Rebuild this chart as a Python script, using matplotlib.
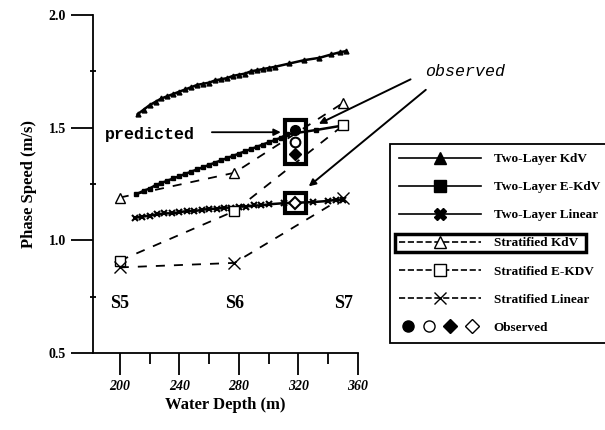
import numpy as np
import matplotlib
matplotlib.use("Agg")
import matplotlib.pyplot as plt
from matplotlib.lines import Line2D
from matplotlib.patches import Rectangle
from matplotlib.legend_handler import HandlerTuple

plt.rcParams['font.family'] = ['Liberation Serif', 'DejaVu Serif']
plt.rcParams['font.weight'] = 'bold'
plt.rcParams['axes.labelweight'] = 'bold'

# two-layer model curves (dense points)
tl_kdv_x = [212, 216, 220, 224, 228, 232, 236, 240, 244, 248, 252, 256, 260, 264, 268,
            272, 276, 280, 284, 288, 292, 296, 300, 304, 314, 324, 334, 342, 348, 352]
tl_kdv_y = [1.56, 1.58, 1.60, 1.615, 1.63, 1.64, 1.65, 1.66, 1.67, 1.68, 1.69, 1.695, 1.70, 1.71, 1.715,
            1.72, 1.73, 1.735, 1.74, 1.75, 1.755, 1.76, 1.765, 1.77, 1.785, 1.80, 1.81, 1.825, 1.835, 1.84]

tl_ekdv_x = [211, 216, 220, 224, 228, 232, 236, 240, 244, 248, 252, 256, 260, 264, 268,
             272, 276, 280, 284, 288, 292, 296, 300, 304, 308, 312, 332, 350]
tl_ekdv_y = [1.205, 1.22, 1.23, 1.245, 1.255, 1.265, 1.275, 1.285, 1.295, 1.305, 1.315, 1.325, 1.335, 1.345, 1.355,
             1.365, 1.375, 1.385, 1.395, 1.405, 1.415, 1.425, 1.435, 1.445, 1.455, 1.47, 1.49, 1.51]

tl_lin_x = [210, 215, 220, 225, 230, 235, 240, 245, 250, 255, 260, 265, 270, 275, 280,
            285, 290, 295, 300, 310, 330, 340, 345, 350]
tl_lin_y = [1.10, 1.105, 1.11, 1.115, 1.12, 1.12, 1.125, 1.13, 1.13, 1.135, 1.14, 1.14, 1.145, 1.145, 1.15,
            1.15, 1.155, 1.155, 1.16, 1.165, 1.17, 1.175, 1.18, 1.18]

# stratified model values at stations S5, S6, S7
st_x = [200, 277, 350]
st_kdv = [1.19, 1.30, 1.61]
st_ekdv = [0.91, 1.13, 1.51]
st_lin = [0.88, 0.90, 1.19]

stations = ['S5', 'S6', 'S7']
station_y = 0.72

# observed speeds
obs_x = 318
obs_upper = [1.49, 1.435, 1.385]
obs_lower = [1.165]

fig = plt.figure(figsize=(6.05, 4.30), dpi=100)
ax = fig.add_axes([0.1537, 0.179, 0.438, 0.786])

ax.plot(tl_kdv_x, tl_kdv_y, 'k-', lw=1.8, marker='^', ms=3.5)
ax.plot(tl_ekdv_x, tl_ekdv_y, 'k-', lw=1.8, marker='s', ms=3)
ax.plot(tl_lin_x, tl_lin_y, 'k-', lw=1.8, marker='x', ms=4, mew=1.5)

ax.plot(st_x, st_kdv, 'k--', lw=1.3, dashes=(5, 5), marker='^', ms=7, mfc='white', mew=1)
ax.plot(st_x, st_ekdv, 'k--', lw=1.3, dashes=(5, 5), marker='s', ms=7, mfc='white', mew=1)
ax.plot(st_x, st_lin, 'k--', lw=1.3, dashes=(5, 5), marker='x', ms=8, mew=1)

ax.plot([obs_x], [obs_upper[0]], 'ko', ms=7)
ax.plot([obs_x], [obs_upper[1]], 'o', mfc='white', mec='k', ms=7, mew=1.5)
ax.plot([obs_x], [obs_upper[2]], 'kD', ms=6)
ax.plot([obs_x], obs_lower, 'D', mfc='white', mec='k', ms=6, mew=1.5)

# boxes around the observed values
for ys in (obs_upper, obs_lower):
    ax.add_patch(Rectangle((obs_x - 7, min(ys) - 0.045), 14, max(ys) - min(ys) + 0.09,
                           fill=False, ec='k', lw=3, zorder=5))

for sx, s in zip(st_x, stations):
    ax.text(sx, station_y, s, ha='center', va='center', fontsize=13)

ax.text(190, 1.47, 'predicted', family=['Liberation Mono', 'DejaVu Sans Mono'],
        fontsize=12, fontweight='bold', va='center')
ax.annotate('', xy=(310, 1.48), xytext=(260, 1.48),
            arrowprops=dict(arrowstyle='-|>', color='k', lw=1.3))
ax.text(405, 1.75, 'observed', family=['Liberation Mono', 'DejaVu Sans Mono'],
        fontsize=12, fontweight='normal', style='italic', va='center', clip_on=False)
ax.annotate('', xy=(332, 1.512), xytext=(397, 1.72),
            arrowprops=dict(arrowstyle='-|>', color='k', lw=1.4), annotation_clip=False)
ax.annotate('', xy=(325.5, 1.232), xytext=(407, 1.676),
            arrowprops=dict(arrowstyle='-|>', color='k', lw=1.4), annotation_clip=False)

ax.set_xlim(182, 360)
ax.set_ylim(0.5, 2.0)
ax.spines['top'].set_visible(False)
ax.spines['right'].set_visible(False)
ax.spines['left'].set_linewidth(1.3)
ax.spines['bottom'].set_linewidth(1.3)
ax.set_xticks([200, 240, 280, 320, 360])
ax.set_xticks([220, 260, 300, 340], minor=True)
ax.set_yticks([0.5, 1.0, 1.5, 2.0])
ax.set_yticks([0.75, 1.25, 1.75], minor=True)
ax.set_yticklabels(['0.5', '1.0', '1.5', '2.0'])
ax.tick_params(axis='x', which='major', direction='out', length=16, width=1.3, labelsize=10)
ax.tick_params(axis='x', which='minor', direction='out', length=8, width=1.3)
ax.tick_params(axis='y', which='major', direction='out', length=16, width=1.3, labelsize=10)
ax.tick_params(axis='y', which='minor', direction='inout', length=5, width=1.3)
for lab in ax.get_xticklabels():
    lab.set_style('italic')
ax.set_xlabel('Water Depth (m)', fontsize=12, fontweight='bold', labelpad=3)
ax.set_ylabel('Phase Speed (m/s)', fontsize=12, fontweight='bold', labelpad=8)

handles = [
    Line2D([], [], color='k', lw=1.2, marker='^', ms=8),
    Line2D([], [], color='k', lw=1.2, marker='s', ms=8),
    Line2D([], [], color='k', lw=1.2, marker='X', ms=9),
    Line2D([], [], color='k', lw=1.2, ls='--', marker='^', ms=8, mfc='white'),
    Line2D([], [], color='k', lw=1.2, ls='--', marker='s', ms=8, mfc='white'),
    Line2D([], [], color='k', lw=1.2, ls='--', marker='x', ms=9),
    (Line2D([], [], ls='', marker='o', color='k', ms=8),
     Line2D([], [], ls='', marker='o', mfc='white', mec='k', ms=8),
     Line2D([], [], ls='', marker='D', color='k', ms=7),
     Line2D([], [], ls='', marker='D', mfc='white', mec='k', ms=7)),
]
labels = ['Two-Layer KdV', 'Two-Layer E-KdV', 'Two-Layer Linear', 'Stratified KdV',
          'Stratified E-KDV', 'Stratified Linear', 'Observed']
leg = fig.legend(handles, labels, loc='upper left', bbox_to_anchor=(0.633, 0.681),
                 fontsize=9.5, labelspacing=1.2, handlelength=6.2, handletextpad=1.0,
                 fancybox=False, edgecolor='k', framealpha=1, borderpad=0.7,
                 handler_map={tuple: HandlerTuple(ndivide=None, pad=0.3)})
leg.get_frame().set_linewidth(1.3)

# thick box around the Stratified KdV entry
fig.canvas.draw()
r = fig.canvas.get_renderer()
tb = leg.get_texts()[3].get_window_extent(r)
lb = leg.get_frame().get_window_extent(r)
x0 = lb.x0 + 5
fig.add_artist(Rectangle((x0 / 605, (tb.y0 - 3) / 430), (tb.x1 + 8 - x0) / 605,
                         (tb.height + 6) / 430, transform=fig.transFigure,
                         fill=False, ec='k', lw=2.5, zorder=10))

fig.savefig('out.png', dpi=100)
